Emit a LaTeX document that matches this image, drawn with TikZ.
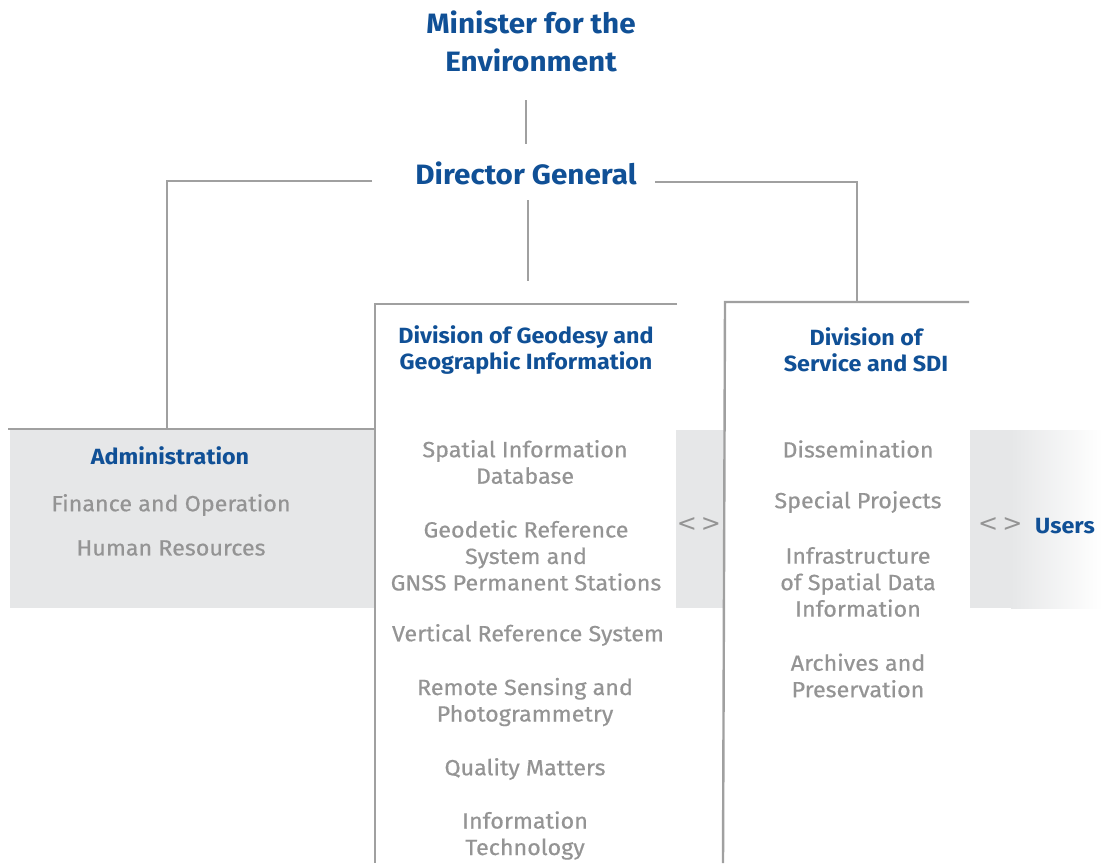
\documentclass[tikz,border=0pt]{standalone}
\usepackage{fontspec}
\setmainfont{Fira Sans}[FakeStretch=1.06]
\newfontfamily\dvs{DejaVu Sans}
\definecolor{blueC}{RGB}{16,80,150}
\definecolor{greyT}{RGB}{148,148,148}
\definecolor{lineG}{RGB}{160,160,160}
\definecolor{boxG}{RGB}{230,231,232}
\tikzset{
  conn/.style={draw=lineG, line width=2.4pt},
  head/.style={text=blueC, align=center, inner sep=0pt, font=\bfseries\fontsize{28}{38}\selectfont},
  divh/.style={text=blueC, align=center, inner sep=0pt, font=\bfseries\fontsize{22}{26}\selectfont},
  item/.style={text=greyT, align=center, inner sep=0pt, font=\fontsize{22}{26.5}\selectfont\addfontfeature{FakeBold=0.5}},
  xmark/.style={text=greyT, inner sep=0pt, font=\dvs\fontsize{24}{26}\selectfont},
  gbox/.style={fill=boxG, draw=none, inner sep=0pt, anchor=north west}
}
\begin{document}
\begin{tikzpicture}[x=1pt,y=-1pt]
\useasboundingbox[fill=white] (0,0) rectangle (1102,863);
% grey boxes
\node[gbox, minimum width=365pt, minimum height=178pt] (adm) at (10,430) {};
\node[gbox, minimum width=49pt, minimum height=178pt] (mid) at (676,430) {};
\fill[boxG] (970,430) rectangle (1012,608);
\shade[left color=boxG, right color=white] (1011,430) rectangle (1102,608);
\node[inner sep=0pt, minimum width=132pt, minimum height=178pt, anchor=north west] (usr) at (970,430) {};
% heads
\node[head] (min) at (531,41) {Minister for the\\Environment};
\node[head] (dg) at (526,173) {Director General};
% coordinates for connector ends
\coordinate (m1) at (526,100);
\coordinate (m2) at (526,144);
\coordinate (dgl) at (372,181);
\coordinate (dgr) at (655,182);
\coordinate (dgb) at (528,200);
\coordinate (gdt) at (528,281);
\coordinate (admtop) at (167,429);
\coordinate (srvtop) at (857,302);
% connectors
\draw[conn] (m1) -- (m2);
\draw[conn] (dgl) -| (admtop);
\draw[conn] (dgr) -| (srvtop);
\draw[conn] (dgb) -- (gdt);
% admin top line
\draw[conn] (8,429) -- (375,429);
% division frames
\draw[conn] (677,304) -- (375,304) -- (375,863);
\draw[conn] (969,302) -- (725,302) -- (723,863);
% admin texts
\node[divh] (admt) at (170,456) {Administration};
\node[item] (fin) at (171,505) {Finance and Operation};
\node[item] (hr) at (171,548) {Human Resources};
% geodesy
\node[divh] (geo) at (526,350) {Division of Geodesy and\\Geographic Information};
\node[item] (g1) at (525,462) {Spatial Information\\Database};
\node[item] (g2) at (526,555.5) {Geodetic Reference\\System and\\GNSS Permanent Stations};
\node[item] (g3) at (528,635) {Vertical Reference System};
\node[item] (g4) at (525,702) {Remote Sensing and\\Photogrammetry};
\node[item] (g5) at (525,769) {Quality Matters};
\node[item] (g6) at (525,835.5) {Information\\Technology};
% service
\node[divh] (srv) at (866,350) {Division of\\Service and SDI};
\node[item] (s1) at (858,449) {Dissemination};
\node[item] (s2) at (858,502) {Special Projects};
\node[item] (s3) at (858,582) {Infrastructure\\of Spatial Data\\Information};
\node[item] (s4) at (858,675.5) {Archives and\\Preservation};
% exchange marks
\node[xmark] (x1) at (699,525) {<\kern4pt>};
\node[xmark, anchor=west] (x2) at (978,525) {<\kern4pt>};
\node[divh, anchor=west] (users) at (1035,526) {Users};
\end{tikzpicture}
\end{document}
